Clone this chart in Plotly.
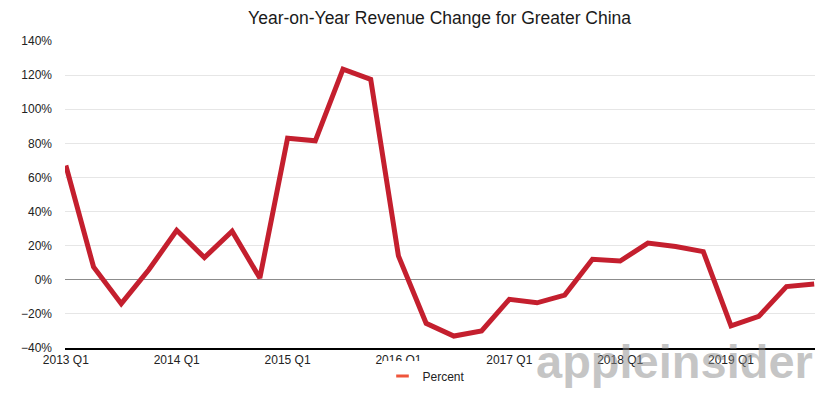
import plotly.graph_objects as go

quarters = [f"{y} Q{q}" for y in range(2013, 2020) for q in range(1, 5)]
percent = [67, 7.5, -14, 6, 29, 13, 28.5, 1,
           83, 81.5, 123.5, 117.5, 14, -25.5, -33, -30,
           -11.5, -13.5, -9, 12, 11, 21.5, 19.5, 16.5,
           -27, -21.5, -4, -2.5]
tick_labels = ["2013 Q1", "2014 Q1", "2015 Q1", "2016 Q1", "2017 Q1", "2018 Q1", "2019 Q1"]
series_name = "Percent"
title = "Year-on-Year Revenue Change for Greater China"
watermark = "appleinsider"

red = "#c41f2e"

fig = go.Figure()
fig.add_trace(go.Scatter(x=quarters, y=percent, mode="lines", name=series_name,
                         line=dict(color=red, width=5), showlegend=False,
                         hoverinfo="x+y"))
fig.add_trace(go.Scatter(x=[None], y=[None], mode="markers", name=series_name,
                         marker=dict(symbol="line-ew-open", size=9,
                                     line=dict(color=red, width=3)),
                         showlegend=True))

fig.update_layout(
    width=830, height=406,
    margin=dict(l=57, r=23, t=33, b=66),
    paper_bgcolor="white", plot_bgcolor="white",
    font=dict(family="Liberation Sans, Arial, sans-serif", size=12, color="#222"),
    title=dict(text=title, x=0.52, xanchor="center", y=0.975, yanchor="middle",
               font=dict(size=17.5, color="#1a1a1a")),
    xaxis=dict(type="category", range=[-0.03, 27.03], tickmode="array",
               tickvals=tick_labels, ticktext=tick_labels,
               showgrid=False, showline=True, linecolor="black", linewidth=2,
               ticks="", tickfont=dict(size=12, color="#222"), zeroline=False),
    yaxis=dict(range=[-40, 140], dtick=20, ticksuffix="%",
               showgrid=True, gridcolor="#e6e6e6", gridwidth=1,
               zeroline=True, zerolinecolor="#8c8c8c", zerolinewidth=1,
               showline=False, ticks="", ticklabelstandoff=12,
               tickfont=dict(size=12, color="#222")),
    legend=dict(orientation="h", x=0.482, xanchor="center", y=-0.091, yanchor="middle",
                font=dict(size=12, color="#222"), itemwidth=30),
    annotations=[dict(text=f"<b>{watermark}</b>", xref="paper", yref="paper",
                      x=1.0, y=-0.043, xanchor="right", yanchor="middle",
                      showarrow=False,
                      font=dict(family="Liberation Sans, Arial, sans-serif",
                                size=47, color="rgba(140,140,140,0.5)"))],
)

fig.write_html("out.html")
